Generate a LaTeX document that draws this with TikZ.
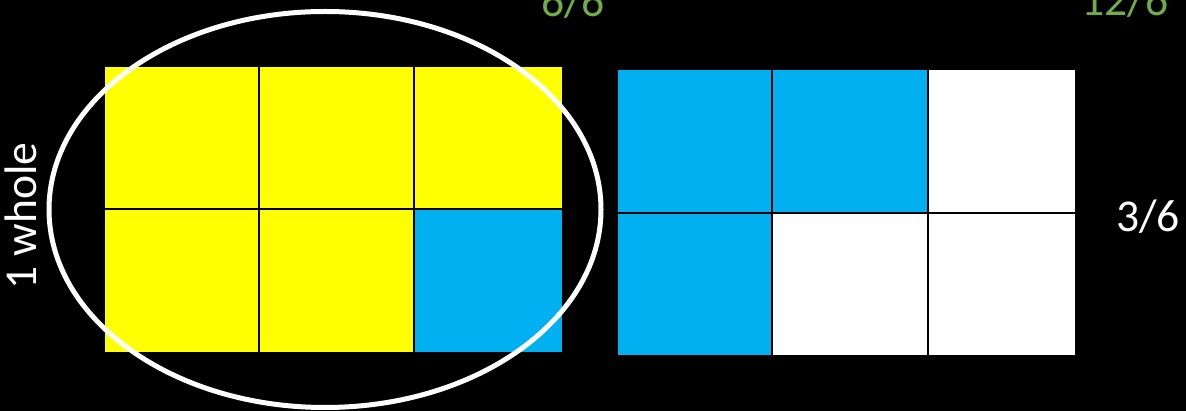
\documentclass[tikz,border=0pt]{standalone}
\usepackage{fontspec}
\setmainfont{Carlito}
\definecolor{cyel}{HTML}{FFFF00}
\definecolor{cblu}{HTML}{00B0F0}
\definecolor{cgrn}{HTML}{70AD47}
\begin{document}
\begin{tikzpicture}[x=1pt,y=-1pt,
  cell/.style={draw=black,line width=2.5pt},
  lbl/.style={font=\fontsize{45.6}{50}\selectfont,inner sep=0pt,anchor=base},
  loop/.style={draw=white,line width=5pt}]
\fill[black] (0,0) rectangle (1186,411);
\useasboundingbox (0,0) rectangle (1186,411);
% left grid
\filldraw[cell,fill=cyel] (104,66) rectangle (259,209);
\filldraw[cell,fill=cyel] (259,66) rectangle (414,209);
\filldraw[cell,fill=cyel] (414,66) rectangle (563,209);
\filldraw[cell,fill=cyel] (104,209) rectangle (259,353);
\filldraw[cell,fill=cyel] (259,209) rectangle (414,353);
\filldraw[cell,fill=cblu] (414,209) rectangle (563,353);
% right grid
\filldraw[cell,fill=cblu] (617,69) rectangle (772,213);
\filldraw[cell,fill=cblu] (772,69) rectangle (928,213);
\filldraw[cell,fill=white] (928,69) rectangle (1076,213);
\filldraw[cell,fill=cblu] (617,213) rectangle (772,356);
\filldraw[cell,fill=white] (772,213) rectangle (928,356);
\filldraw[cell,fill=white] (928,213) rectangle (1076,356);
% ellipse
\draw[loop] (325,209.5) ellipse [x radius=276, y radius=198];
% labels
\node[lbl,text=cgrn] (t66) at (573,17) {6/6};
\node[lbl,text=cgrn] (t126) at (1125,16) {12/6};
\node[lbl,text=white] (t36) at (1148,232) {3/6};
\node[lbl,text=white,rotate=90] (whole) at (36,216) {1 whole};
\end{tikzpicture}
\end{document}
